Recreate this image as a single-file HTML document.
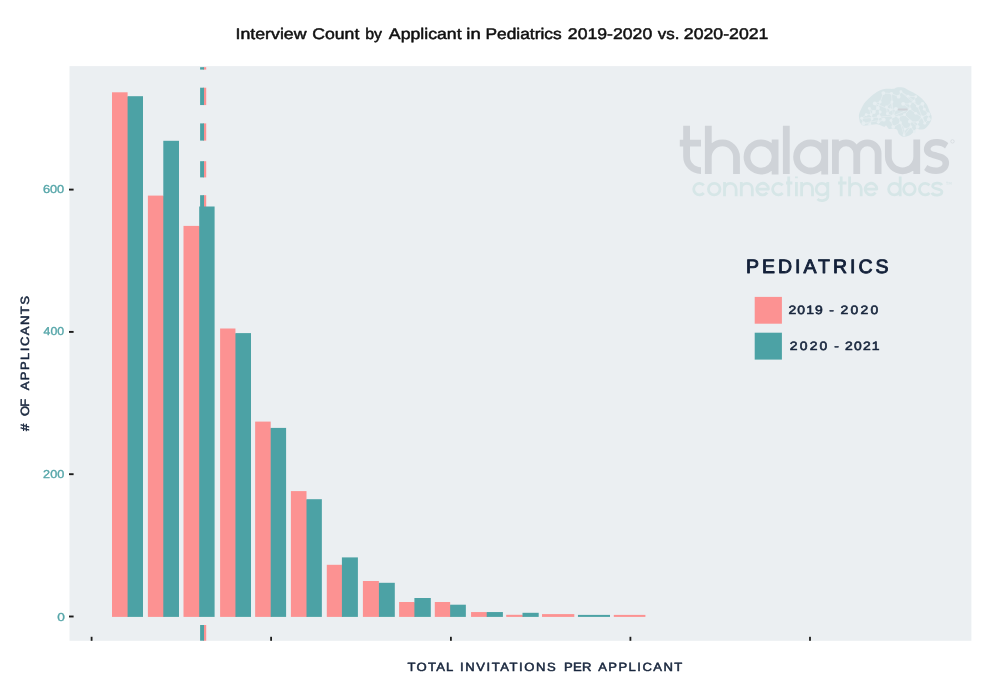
<!DOCTYPE html>
<html><head><meta charset="utf-8"><title>Interview Count by Applicant in Pediatrics</title>
<style>
html,body{margin:0;padding:0;background:#fff;}
body{width:999px;height:693px;overflow:hidden;font-family:"Liberation Sans",sans-serif;}
svg{display:block;position:absolute;left:0;top:0;will-change:transform;}
text{font-family:"Liberation Sans",sans-serif;text-rendering:geometricPrecision;}
</style></head><body>
<svg width="999" height="693" viewBox="0 0 999 693">
<rect x="0" y="0" width="999" height="693" fill="#ffffff"/>
<rect x="69.5" y="66.1" width="901.90" height="574.70" fill="#ebeff2"/>
<g id="logo">
<g fill="none" stroke="#cfd3d8" stroke-width="6.8" stroke-linecap="butt" stroke-linejoin="round">
<path d="M686.6 125.8 V156.4 A14.2 14.2 0 0 0 700.8 170.6 h0.2 M679.8 143.1 H701 M708.3 125.8 V174.0 M708.3 157 A14.1 14.1 0 0 1 736.5 157 V174.0 M775.0999999999999 156.95 A14.05 14.05 0 1 0 747.0 156.95 A14.05 14.05 0 1 0 775.0999999999999 156.95 M775.0999999999999 139.5 V174.4 M786.3 125.8 V174.0 M824.6999999999999 156.95 A14.05 14.05 0 1 0 796.6 156.95 A14.05 14.05 0 1 0 824.6999999999999 156.95 M824.6999999999999 139.5 V174.4 M835.4 139.5 V174.0 M835.4 153.57500000000002 A10.675 10.675 0 0 1 856.75 153.57500000000002 V174.0 M856.75 153.57500000000002 A10.675 10.675 0 0 1 878.1 153.57500000000002 V174.0 M888.35 139.5 V156.6 A14.2 14.2 0 0 0 916.75 156.6 M916.75 139.5 V174.0"/>
</g>
<path d="M948.26 143.34 C946.10 140.45 941.05 139.01 936.00 139.01 C928.79 139.01 923.89 143.70 923.89 149.47 C923.89 154.15 927.35 156.32 932.40 157.97 L937.44 159.56 C941.05 160.64 942.49 161.36 942.49 163.53 C942.49 166.05 939.61 167.49 936.00 167.49 C932.40 167.49 929.15 166.41 927.35 164.97 L924.11 170.01 C926.63 172.54 930.96 174.12 936.00 174.12 C943.93 174.12 949.12 169.29 949.12 162.80 C949.12 157.76 945.37 155.23 941.05 153.79 L937.44 152.71 C934.56 151.85 930.59 151.63 930.59 149.11 C930.59 146.94 933.48 145.50 936.72 145.50 C940.33 145.50 943.21 146.58 945.01 148.39 Z" fill="#cfd3d8"/>
<circle cx="952.5" cy="141.4" r="1.7" fill="none" stroke="#cfd3d8" stroke-width="0.6"/>
<path fill="none" stroke="#d6e6e7" stroke-width="2.8" stroke-linecap="butt" stroke-linejoin="round" d="M703.81 185.22 A5.80 5.80 0 1 0 703.81 192.98 M720.00 189.10000000000002 A5.80 5.80 0 1 0 708.40 189.10000000000002 A5.80 5.80 0 1 0 720.00 189.10000000000002 M724.50 181.9 V196.3 M724.50 189.10 A5.80 5.80 0 0 1 736.10 189.10 V196.3 M741.30 181.9 V196.3 M741.30 188.80 A5.50 5.50 0 0 1 752.30 188.80 V196.3 M756.85 189.10000000000002 H768.45 A5.80 5.80 0 1 0 767.22 192.67 M782.71 185.22 A5.80 5.80 0 1 0 782.71 192.98 M788.70 176.6 V196.3 M786.00 183.00 H792.40 M796.4 181.9 V196.3 M796.4 176.6 v1.6 M801.60 181.9 V196.3 M801.60 188.75 A5.45 5.45 0 0 1 812.50 188.75 V196.3 M827.80 189.10000000000002 A5.80 5.80 0 1 0 816.20 189.10000000000002 A5.80 5.80 0 1 0 827.80 189.10000000000002 M827.80 181.9 V196.5 A5.80 4.20 0 0 1 817.40 198.90 M841.20 176.6 V196.3 M838.10 183.00 H846.50 M849.60 176.6 V196.3 M849.60 189.10 A5.80 5.80 0 0 1 861.20 189.10 V196.3 M865.20 189.10000000000002 H876.80 A5.80 5.80 0 1 0 875.57 192.67 M900.20 189.10000000000002 A5.80 5.80 0 1 0 888.60 189.10000000000002 A5.80 5.80 0 1 0 900.20 189.10000000000002 M900.20 176.6 V196.3 M915.20 189.10000000000002 A5.80 5.80 0 1 0 903.60 189.10000000000002 A5.80 5.80 0 1 0 915.20 189.10000000000002 M929.51 185.22 A5.80 5.80 0 1 0 929.51 192.98 M941.70 185.10 C940.60 182.50 932.50 182.10 932.70 186.50 C932.90 189.30 941.90 188.50 941.90 191.70 C941.90 196.10 933.10 195.90 931.90 192.70"/>
<path fill="none" stroke="#d6e6e7" stroke-width="0.6" d="M946 182.2 h2.2 M947.1 182.2 v2.6 M949 184.8 v-2.6 l1.1 1.6 l1.1 -1.6 v2.6"/>
<path d="M859.46 119.64 C859.28 118.33 858.71 116.49 859.01 114.68 C859.31 112.88 860.29 110.86 861.26 108.83 C862.24 106.80 863.51 104.32 864.86 102.52 C866.22 100.72 867.79 99.49 869.37 98.02 C870.95 96.55 872.52 94.97 874.32 93.69 C876.13 92.42 878.23 91.17 880.18 90.36 C882.13 89.55 883.86 89.08 886.04 88.83 C888.21 88.57 891.44 89.07 893.24 88.83 C895.05 88.59 895.05 87.57 896.85 87.39 C898.65 87.21 902.10 87.25 904.05 87.75 C906.01 88.24 906.76 89.40 908.56 90.36 C910.36 91.32 912.76 92.24 914.86 93.51 C916.97 94.79 919.22 96.22 921.17 98.02 C923.12 99.82 925.23 102.22 926.58 104.32 C927.93 106.43 928.45 108.68 929.28 110.63 C930.11 112.58 931.23 114.38 931.53 116.04 C931.83 117.69 931.58 119.04 931.08 120.54 C930.59 122.04 929.61 123.69 928.56 125.05 C927.51 126.40 926.16 127.90 924.77 128.65 C923.39 129.40 921.62 129.52 920.27 129.55 C918.92 129.58 917.87 128.35 916.67 128.83 C915.47 129.31 914.41 131.26 913.06 132.43 C911.71 133.60 910.21 135.14 908.56 135.86 C906.91 136.58 904.73 137.03 903.15 136.76 C901.58 136.49 900.12 135.41 899.10 134.23 C898.08 133.06 898.00 130.63 897.03 129.73 C896.05 128.83 894.62 128.98 893.24 128.83 C891.86 128.68 889.94 129.38 888.74 128.83 C887.54 128.27 886.82 125.83 886.04 125.50 C885.26 125.17 885.56 127.04 884.05 126.85 C882.55 126.65 879.70 124.59 877.03 124.32 C874.35 124.05 870.42 125.08 868.02 125.23 C865.62 125.38 863.93 125.68 862.61 125.23 C861.29 124.77 860.62 123.45 860.09 122.52 C859.56 121.59 859.64 120.95 859.46 119.64 Z" fill="#d8e5e8"/>
<path d="M883.33 93.06 L891.44 93.51 M883.33 93.06 L880.18 102.07 M891.44 93.51 L898.65 96.67 M900.90 91.71 L898.65 96.67 M900.90 91.71 L908.11 96.22 M908.11 96.22 L915.77 96.67 M908.11 96.22 L913.96 101.17 M915.77 96.67 L913.96 101.17 M874.77 103.42 L880.18 102.07 M874.77 103.42 L877.93 107.93 M880.18 102.07 L877.93 107.93 M891.89 102.07 L886.49 107.03 M891.89 102.07 L890.54 109.73 M903.15 103.87 L909.91 103.87 M903.15 103.87 L909.91 108.83 M909.91 103.87 L913.96 101.17 M909.91 103.87 L909.91 108.83 M913.96 101.17 L917.57 106.13 M922.52 103.87 L917.57 106.13 M922.52 103.87 L924.32 109.28 M869.37 108.38 L873.87 111.98 M869.37 108.38 L871.17 114.68 M877.93 107.93 L873.87 111.98 M877.93 107.93 L880.18 111.98 M886.49 107.03 L890.54 109.73 M886.49 107.03 L887.39 113.78 M890.54 109.73 L895.95 108.83 M890.54 109.73 L887.39 113.78 M895.95 108.83 L893.24 116.04 M909.91 108.83 L904.50 114.68 M909.91 108.83 L915.77 113.33 M924.32 109.28 L928.38 114.23 M873.87 111.98 L871.17 114.68 M880.18 111.98 L878.83 116.49 M887.39 113.78 L893.24 116.04 M893.24 116.04 L898.65 116.94 M893.24 116.04 L890.99 120.54 M904.50 114.68 L898.65 116.94 M915.77 113.33 L922.07 116.94 M928.38 114.23 L922.07 116.94 M928.38 114.23 L928.83 119.19 M866.22 114.68 L871.17 114.68 M866.22 114.68 L861.71 118.29 M871.17 114.68 L872.07 118.74 M878.83 116.49 L883.78 119.64 M878.83 116.49 L878.38 122.34 M898.65 116.94 L900.45 122.79 M922.07 116.94 L917.57 122.34 M922.07 116.94 L924.77 123.24 M928.83 119.19 L924.77 123.24 M861.71 118.29 L863.51 123.24 M872.07 118.74 L869.82 124.14 M883.78 119.64 L878.38 122.34 M890.99 120.54 L893.24 126.85 M900.45 122.79 L893.24 126.85 M900.45 122.79 L904.95 129.10 M909.91 121.44 L917.57 122.34 M909.91 121.44 L910.81 126.85 M917.57 122.34 L917.57 126.85 M863.51 123.24 L869.82 124.14 M904.95 129.10 L910.81 126.85 M904.95 129.10 L904.05 134.95 M910.81 126.85 L904.05 134.95 M910.81 126.85 L914.41 131.80 M917.57 126.85 L914.41 131.80 M861.71 118.29 L893.24 116.04 M893.24 116.04 L909.91 108.83 M891.44 93.51 L893.24 116.04 M900.90 91.71 L917.57 106.13 M917.57 106.13 L924.77 123.24 M874.77 103.42 L890.54 109.73 M900.45 122.79 L904.05 134.95 M904.50 114.68 L917.57 126.85 M863.51 123.24 L883.78 119.64" stroke="#e6eef1" stroke-width="0.7" fill="none"/>
<g fill="#e6eef1"><circle cx="883.33" cy="93.06" r="1.9"/><circle cx="891.44" cy="93.51" r="1.45"/><circle cx="900.90" cy="91.71" r="1.45"/><circle cx="898.65" cy="96.67" r="1.9"/><circle cx="908.11" cy="96.22" r="1.45"/><circle cx="915.77" cy="96.67" r="1.45"/><circle cx="874.77" cy="103.42" r="1.9"/><circle cx="880.18" cy="102.07" r="1.45"/><circle cx="891.89" cy="102.07" r="1.45"/><circle cx="903.15" cy="103.87" r="1.9"/><circle cx="909.91" cy="103.87" r="1.45"/><circle cx="913.96" cy="101.17" r="1.45"/><circle cx="922.52" cy="103.87" r="1.9"/><circle cx="917.57" cy="106.13" r="1.45"/><circle cx="869.37" cy="108.38" r="1.45"/><circle cx="877.93" cy="107.93" r="1.9"/><circle cx="886.49" cy="107.03" r="1.45"/><circle cx="890.54" cy="109.73" r="1.45"/><circle cx="895.95" cy="108.83" r="1.9"/><circle cx="909.91" cy="108.83" r="1.45"/><circle cx="924.32" cy="109.28" r="1.45"/><circle cx="873.87" cy="111.98" r="1.9"/><circle cx="880.18" cy="111.98" r="1.45"/><circle cx="887.39" cy="113.78" r="1.45"/><circle cx="893.24" cy="116.04" r="1.9"/><circle cx="904.50" cy="114.68" r="1.45"/><circle cx="915.77" cy="113.33" r="1.45"/><circle cx="928.38" cy="114.23" r="1.9"/><circle cx="866.22" cy="114.68" r="1.45"/><circle cx="871.17" cy="114.68" r="1.45"/><circle cx="878.83" cy="116.49" r="1.9"/><circle cx="898.65" cy="116.94" r="1.45"/><circle cx="922.07" cy="116.94" r="1.45"/><circle cx="928.83" cy="119.19" r="1.9"/><circle cx="861.71" cy="118.29" r="1.45"/><circle cx="872.07" cy="118.74" r="1.45"/><circle cx="883.78" cy="119.64" r="1.9"/><circle cx="890.99" cy="120.54" r="1.45"/><circle cx="900.45" cy="122.79" r="1.45"/><circle cx="909.91" cy="121.44" r="1.9"/><circle cx="917.57" cy="122.34" r="1.45"/><circle cx="924.77" cy="123.24" r="1.45"/><circle cx="863.51" cy="123.24" r="1.9"/><circle cx="869.82" cy="124.14" r="1.45"/><circle cx="878.38" cy="122.34" r="1.45"/><circle cx="893.24" cy="126.85" r="1.9"/><circle cx="904.95" cy="129.10" r="1.45"/><circle cx="910.81" cy="126.85" r="1.45"/><circle cx="917.57" cy="126.85" r="1.9"/><circle cx="904.05" cy="134.95" r="1.45"/><circle cx="914.41" cy="131.80" r="1.45"/></g>
<rect x="897.7" y="108.4" width="10" height="2.0" rx="1" fill="#d0d3d8"/>
</g>

<g>
<rect x="203.0" y="67.2" width="3.2" height="2.40" fill="#fc9292"/><rect x="200.1" y="67.2" width="3.9" height="2.40" fill="#4ca2a5"/>
<rect x="203.0" y="87.7" width="3.2" height="17.35" fill="#fc9292"/><rect x="200.1" y="87.7" width="3.9" height="17.35" fill="#4ca2a5"/>
<rect x="203.0" y="123.4" width="3.2" height="17.20" fill="#fc9292"/><rect x="200.1" y="123.4" width="3.9" height="17.20" fill="#4ca2a5"/>
<rect x="203.0" y="161.2" width="3.2" height="16.20" fill="#fc9292"/><rect x="200.1" y="161.2" width="3.9" height="16.20" fill="#4ca2a5"/>
<rect x="203.0" y="195.2" width="3.2" height="17.30" fill="#fc9292"/><rect x="200.1" y="195.2" width="3.9" height="17.30" fill="#4ca2a5"/>
<rect x="203.0" y="625.0" width="3.2" height="15.70" fill="#fc9292"/><rect x="200.1" y="625.0" width="3.9" height="15.70" fill="#4ca2a5"/>
</g>
<g>
<rect x="112.0" y="92.3" width="15.60" height="524.60" fill="#fc9292"/><rect x="127.00" y="96.80" width="1.8" height="520.10" fill="#fc9292"/><rect x="127.6" y="96.2" width="15.40" height="520.70" fill="#4ca2a5"/>
<rect x="147.9" y="195.6" width="15.40" height="421.30" fill="#fc9292"/><rect x="162.70" y="196.20" width="1.8" height="420.70" fill="#fc9292"/><rect x="163.3" y="140.8" width="15.70" height="476.10" fill="#4ca2a5"/>
<rect x="183.5" y="225.9" width="15.70" height="391.00" fill="#fc9292"/><rect x="198.60" y="226.50" width="1.8" height="390.40" fill="#fc9292"/><rect x="199.2" y="206.5" width="15.40" height="410.40" fill="#4ca2a5"/>
<rect x="220.1" y="328.5" width="15.35" height="288.40" fill="#fc9292"/><rect x="234.85" y="333.70" width="1.8" height="283.20" fill="#fc9292"/><rect x="235.45" y="333.1" width="15.55" height="283.80" fill="#4ca2a5"/>
<rect x="255.15" y="421.6" width="15.55" height="195.30" fill="#fc9292"/><rect x="270.10" y="428.50" width="1.8" height="188.40" fill="#fc9292"/><rect x="270.7" y="427.9" width="15.40" height="189.00" fill="#4ca2a5"/>
<rect x="290.9" y="491.1" width="15.60" height="125.80" fill="#fc9292"/><rect x="305.90" y="499.80" width="1.8" height="117.10" fill="#fc9292"/><rect x="306.5" y="499.2" width="15.35" height="117.70" fill="#4ca2a5"/>
<rect x="326.8" y="564.8" width="15.10" height="52.10" fill="#fc9292"/><rect x="341.30" y="565.40" width="1.8" height="51.50" fill="#fc9292"/><rect x="341.9" y="557.4" width="16.00" height="59.50" fill="#4ca2a5"/>
<rect x="362.9" y="581.0" width="16.00" height="35.90" fill="#fc9292"/><rect x="378.30" y="583.40" width="1.8" height="33.50" fill="#fc9292"/><rect x="378.9" y="582.8" width="15.90" height="34.10" fill="#4ca2a5"/>
<rect x="399.1" y="602.0" width="15.30" height="14.90" fill="#fc9292"/><rect x="413.80" y="602.60" width="1.8" height="14.30" fill="#fc9292"/><rect x="414.4" y="598.0" width="16.40" height="18.90" fill="#4ca2a5"/>
<rect x="434.8" y="602.0" width="15.35" height="14.90" fill="#fc9292"/><rect x="449.55" y="605.30" width="1.8" height="11.60" fill="#fc9292"/><rect x="450.15" y="604.7" width="15.70" height="12.20" fill="#4ca2a5"/>
<rect x="471.05" y="612.05" width="15.65" height="4.85" fill="#fc9292"/><rect x="486.10" y="612.65" width="1.8" height="4.25" fill="#fc9292"/><rect x="486.7" y="612.05" width="16.20" height="4.85" fill="#4ca2a5"/>
<rect x="506.2" y="614.8" width="16.30" height="2.10" fill="#fc9292"/><rect x="521.90" y="615.40" width="1.8" height="1.50" fill="#fc9292"/><rect x="522.5" y="612.8" width="16.20" height="4.10" fill="#4ca2a5"/>
<rect x="542.0" y="614.1" width="32.30" height="2.80" fill="#fc9292"/>
<rect x="577.95" y="614.9" width="32.05" height="2.00" fill="#4ca2a5"/>
<rect x="613.8" y="614.9" width="31.60" height="2.00" fill="#fc9292"/>
</g>
<g fill="#1c1c1c">
<rect x="69.0" y="188.65" width="4.6" height="1.9"/><rect x="69.0" y="330.95" width="4.6" height="1.9"/><rect x="69.0" y="473.25" width="4.6" height="1.9"/><rect x="69.0" y="615.55" width="4.6" height="1.9"/><rect x="90.70" y="636.8" width="1.8" height="4.0"/><rect x="270.20" y="636.8" width="1.8" height="4.0"/><rect x="450.00" y="636.8" width="1.8" height="4.0"/><rect x="629.50" y="636.8" width="1.8" height="4.0"/><rect x="809.10" y="636.8" width="1.8" height="4.0"/>
</g>
<g font-size="11.5" font-weight="normal" fill="#56a6a9" stroke="#56a6a9" stroke-width="0.35" stroke-linejoin="round">
<text x="42.90" y="193.03" textLength="21.33" lengthAdjust="spacingAndGlyphs">600</text>
</g>
<g font-size="11.5" font-weight="normal" fill="#56a6a9" stroke="#56a6a9" stroke-width="0.35" stroke-linejoin="round">
<text x="43.63" y="335.22999999999996" textLength="20.56" lengthAdjust="spacingAndGlyphs">400</text>
</g>
<g font-size="11.5" font-weight="normal" fill="#56a6a9" stroke="#56a6a9" stroke-width="0.35" stroke-linejoin="round">
<text x="43.14" y="478.43" textLength="21.16" lengthAdjust="spacingAndGlyphs">200</text>
</g>
<g font-size="11.5" font-weight="normal" fill="#56a6a9" stroke="#56a6a9" stroke-width="0.35" stroke-linejoin="round">
<text x="57.18" y="620.83" textLength="7.61" lengthAdjust="spacingAndGlyphs">0</text>
</g>
<g font-size="15.4" font-weight="normal" fill="#111" stroke="#111" stroke-width="0.5" stroke-linejoin="round">
<text x="235.49" y="38.55" textLength="71.05" lengthAdjust="spacingAndGlyphs">Interview</text><text x="312.28" y="38.55" textLength="47.07" lengthAdjust="spacingAndGlyphs">Count</text><text x="365.26" y="38.55" textLength="16.84" lengthAdjust="spacingAndGlyphs">by</text><text x="388.86" y="38.55" textLength="72.74" lengthAdjust="spacingAndGlyphs">Applicant</text><text x="466.37" y="38.55" textLength="14.44" lengthAdjust="spacingAndGlyphs">in</text><text x="485.48" y="38.55" textLength="76.13" lengthAdjust="spacingAndGlyphs">Pediatrics</text><text x="567.83" y="38.55" textLength="84.42" lengthAdjust="spacingAndGlyphs">2019-2020</text><text x="657.89" y="38.55" textLength="21.63" lengthAdjust="spacingAndGlyphs">vs.</text><text x="683.83" y="38.55" textLength="84.63" lengthAdjust="spacingAndGlyphs">2020-2021</text>
</g>
<g font-size="11.9" font-weight="normal" fill="#18263d" stroke="#18263d" stroke-width="0.5" stroke-linejoin="round">
<text transform="translate(407.62 0) scale(1.1 1)" x="0" y="671.3" textLength="41.57" lengthAdjust="spacing">TOTAL</text><text transform="translate(459.98 0) scale(1.1 1)" x="0" y="671.3" textLength="87.10" lengthAdjust="spacing">INVITATIONS</text><text transform="translate(564.06 0) scale(1.1 1)" x="0" y="671.3" textLength="24.83" lengthAdjust="spacing">PER</text><text transform="translate(598.17 0) scale(1.1 1)" x="0" y="671.3" textLength="76.47" lengthAdjust="spacing">APPLICANT</text>
</g>
<g transform="translate(28.6 431.3) rotate(-90)" font-size="11.9" font-weight="normal" fill="#18263d" stroke="#18263d" stroke-width="0.5" stroke-linejoin="round">
<text transform="translate(0.27 0) scale(1.1 1)" x="0" y="0" textLength="11.24" lengthAdjust="spacing">#</text><text transform="translate(15.39 0) scale(1.1 1)" x="0" y="0" textLength="15.71" lengthAdjust="spacing">OF</text><text transform="translate(40.97 0) scale(1.1 1)" x="0" y="0" textLength="85.70" lengthAdjust="spacing">APPLICANTS</text>
</g>
<g font-size="19.5" font-weight="normal" fill="#14213a" stroke="#14213a" stroke-width="0.9" stroke-linejoin="round">
<text x="745.91" y="272.95" textLength="142.70" lengthAdjust="spacing">PEDIATRICS</text>
</g>
<g font-size="12.1" font-weight="normal" fill="#18263d" stroke="#18263d" stroke-width="0.6" stroke-linejoin="round">
<text transform="translate(788.53 0) scale(1.15 1)" x="0" y="314.2" textLength="29.79" lengthAdjust="spacing">2019</text><text transform="translate(829.19 0) scale(1.15 1)" x="0" y="314.2" textLength="3.40" lengthAdjust="spacing">-</text><text transform="translate(840.43 0) scale(1.15 1)" x="0" y="314.2" textLength="32.94" lengthAdjust="spacing">2020</text>
</g>
<g font-size="12.1" font-weight="normal" fill="#18263d" stroke="#18263d" stroke-width="0.6" stroke-linejoin="round">
<text transform="translate(789.83 0) scale(1.15 1)" x="0" y="350.1" textLength="32.64" lengthAdjust="spacing">2020</text><text transform="translate(834.19 0) scale(1.15 1)" x="0" y="350.1" textLength="3.40" lengthAdjust="spacing">-</text><text transform="translate(844.93 0) scale(1.15 1)" x="0" y="350.1" textLength="30.15" lengthAdjust="spacing">2021</text>
</g>
<rect x="754.7" y="296.9" width="27.2" height="26.8" fill="#fc9292"/>
<rect x="754.7" y="332.7" width="27.2" height="26.9" fill="#4ca2a5"/>
</svg>
</body></html>
